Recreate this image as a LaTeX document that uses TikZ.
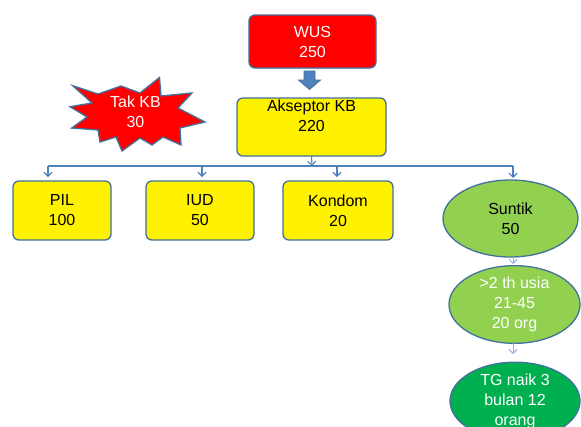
\documentclass[tikz,border=0pt]{standalone}
\usepackage{fontspec}
\setmainfont{Liberation Sans}
\usetikzlibrary{arrows.meta,shapes.geometric}
\definecolor{edgeblue}{HTML}{41719C}
\definecolor{linkblue}{HTML}{4F81BD}
\definecolor{lightlink}{HTML}{8EB4E3}
\definecolor{lgreen}{HTML}{92D050}
\definecolor{dgreen}{HTML}{00B050}
\begin{document}
\begin{tikzpicture}[x=1pt,y=-1pt,
  font=\fontsize{16}{20}\selectfont,
  box/.style={draw=edgeblue, line width=1.3pt, rounded corners=6pt, align=center, inner sep=0pt, outer sep=0pt},
  ybox/.style={box, fill=yellow, text=black},
  oval/.style={ellipse, draw=edgeblue, line width=1.3pt, align=center, inner sep=0pt, outer sep=0pt},
  link/.style={draw=linkblue, line width=1.1pt},
  conn/.style={link, -{Straight Barb[length=4pt,width=8pt]}},
  lconn/.style={draw=lightlink, line width=1pt, -{Straight Barb[length=4pt,width=8pt]}}
]
\useasboundingbox (0,0) rectangle (581,426);
\clip (0,0) rectangle (581,426);
\fill[white] (0,0) rectangle (581,426);

% WUS
\node[box, fill=red, text=white, minimum width=127pt, minimum height=53pt] (wus) at (312.5,41.5) {WUS\\250};

% block arrow
\draw[fill=linkblue, draw=edgeblue, line width=0.8pt]
  (304,71) -- (315,71) -- (315,80) -- (320.5,80) -- (309.5,89.5) -- (298.5,80) -- (304,80) -- cycle;

% Akseptor
\node[ybox, minimum width=149pt, minimum height=58pt,
  label={[anchor=north, align=center, inner sep=2pt, text=black]north:Akseptor KB\\220}] (aks) at (311.5,127) {};

% starburst
\draw[fill=red, draw=edgeblue, line width=1.3pt, line join=miter]
  (72.7,85.7) -- (98,94) -- (121,86) -- (140,93) -- (159.5,77.5) -- (161,96)
  -- (192,93) -- (178,108) -- (205,122) -- (180,128) -- (181,145) -- (163,137)
  -- (152,145) -- (140,138) -- (122,151) -- (116,137) -- (100,142) -- (98,130)
  -- (71.7,128) -- (87,117) -- (70,106.7) -- (92,103) -- cycle;
\node[text=white, align=center] (takkb) at (135.5,112) {Tak KB\\30};

% level 2
\node[ybox, minimum width=98pt, minimum height=59pt] (pil) at (62,210.5) {PIL\\100};
\node[ybox, minimum width=108pt, minimum height=59pt] (iud) at (200,210.5) {IUD\\50};
\node[ybox, minimum width=110pt, minimum height=59pt] (kondom) at (338,210.5) {Kondom\\20};
\node[oval, fill=lgreen, text=black, minimum width=135pt, minimum height=77pt] (suntik) at (510.5,218.5) {Suntik\\50};

% chain
\node[oval, fill=lgreen, text=white, minimum width=131pt, minimum height=75pt] (usia) at (514.5,304.5) {>2 th usia\\21-45\\20 org};
\node[oval, fill=dgreen, text=white, minimum width=130pt, minimum height=68pt] (tg) at (515,401) {TG naik 3\\bulan 12\\orang};

% connectors
\coordinate (j) at (312,166);
\coordinate (jl) at (48,166);
\coordinate (jr) at (513,166);
\draw[conn] (aks.south) -- (j);
\draw[link] (jl) -- (jr);
\draw[conn, shorten >=4pt] (jl) -- (jl |- pil.north);
\draw[conn, shorten >=4pt] (202,166) -- (202,181);
\draw[conn, shorten >=4pt] (337,166) -- (337,181);
\draw[conn, shorten >=2pt] (jr) -- (513,180);
\draw[lconn, shorten >=3pt] (513,257) -- (513,267);
\draw[lconn, shorten >=13pt, shorten <=1pt] (513,342) -- (513,367);
\end{tikzpicture}
\end{document}
